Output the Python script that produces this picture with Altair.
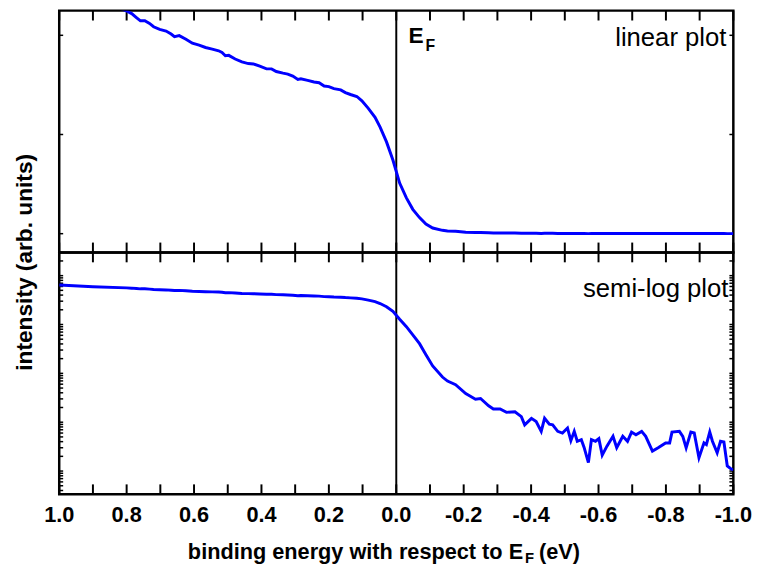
import altair as alt
import pandas as pd

# ---- data (binding energy in eV, intensity in counts) ----
energy = [1.000, 0.900, 0.800, 0.785, 0.771, 0.759, 0.746, 0.732, 0.720, 0.702,
          0.683, 0.668, 0.658, 0.644, 0.624, 0.605, 0.585, 0.566, 0.546, 0.527,
          0.517, 0.507, 0.497, 0.478, 0.458, 0.439, 0.424, 0.405, 0.385, 0.370,
          0.356, 0.336, 0.322, 0.307, 0.292, 0.283, 0.263, 0.244, 0.229, 0.214,
          0.200, 0.185, 0.165, 0.151, 0.136, 0.117, 0.102, 0.083, 0.063, 0.048,
          0.029, 0.010, -0.010, -0.030, -0.049, -0.069, -0.088, -0.108, -0.137, -0.152,
          -0.176, -0.206, -0.235, -0.250, -0.274, -0.288, -0.308, -0.327, -0.352, -0.371,
          -0.381, -0.401, -0.415, -0.430, -0.440, -0.454, -0.464, -0.479, -0.493, -0.508,
          -0.518, -0.528, -0.537, -0.549, -0.557, -0.570, -0.579, -0.591, -0.601, -0.611,
          -0.625, -0.643, -0.654, -0.672, -0.686, -0.698, -0.711, -0.728, -0.740, -0.760,
          -0.777, -0.799, -0.811, -0.818, -0.840, -0.850, -0.860, -0.874, -0.884, -0.898,
          -0.913, -0.920, -0.930, -0.938, -0.952, -0.962, -0.972, -0.982, -0.994, -1.000]
intensity = [6430, 5950, 5614, 5547, 5448, 5365, 5365, 5299, 5216, 5149,
             5108, 5033, 4967, 4992, 4901, 4801, 4751, 4693, 4652, 4610,
             4569, 4486, 4494, 4403, 4328, 4287, 4279, 4221, 4154, 4154,
             4088, 4047, 4022, 3972, 3889, 3906, 3864, 3823, 3806, 3723,
             3707, 3657, 3624, 3557, 3508, 3458, 3350, 3159, 2935, 2687,
             2313, 1857, 1276, 903, 614, 405, 241, 142, 84, 69.5,
             58.6, 38.5, 29.6, 30.6, 21.7, 18.6, 18.6, 15.9, 16.4, 13.0,
             8.8, 12.0, 10.3, 6.5, 12.0, 9.1, 8.8, 6.5, 6.0, 7.6,
             4.19, 6.5, 4.07, 4.39, 3.08, 1.49, 4.39, 4.07, 4.60, 2.12,
             3.23, 5.14, 2.99, 5.14, 4.07, 6.28, 5.54, 6.49, 5.14, 2.56,
             2.99, 3.77, 3.77, 6.28, 6.49, 5.14, 2.99, 6.28, 6.0, 1.87,
             3.77, 3.48, 6.28, 4.07, 2.37, 4.07, 3.94, 1.27, 1.09, 1.07]

x_tick_values = [1.0, 0.9, 0.8, 0.7, 0.6, 0.5, 0.4, 0.3, 0.2, 0.1, 0.0,
                 -0.1, -0.2, -0.3, -0.4, -0.5, -0.6, -0.7, -0.8, -0.9, -1.0]
x_label_values = [1.0, 0.8, 0.6, 0.4, 0.2, 0.0, -0.2, -0.4, -0.6, -0.8, -1.0]
x_tick_labels = ["1.0", "0.8", "0.6", "0.4", "0.2", "0.0", "-0.2", "-0.4", "-0.6", "-0.8", "-1.0"]
lin_tick_values = [0, 2500, 5000]
log_decades = [-1, 0, 1, 2, 3, 4]
log_mults = [1, 2, 3, 4, 5, 6, 7, 8, 9]
fermi_level = [0.0]

LIN_DOMAIN = [-473, 5622]
LOG_DOMAIN = [0.335, 29850]

W, H = 683, 245
BLUE = "#0000FF"
FONT = "Liberation Sans"
TICK = 10
YTICK = 4

df = pd.DataFrame({"E": energy, "I": intensity})
xt = pd.DataFrame({"v": x_tick_values})
xl = pd.DataFrame({"v": x_label_values, "lab": x_tick_labels})
lt = pd.DataFrame({"v": lin_tick_values})
log_ticks = [m * 10.0 ** d for d in log_decades for m in log_mults
             if LOG_DOMAIN[0] <= m * 10.0 ** d <= LOG_DOMAIN[1]]
gt = pd.DataFrame({"v": log_ticks})
ef = pd.DataFrame({"E": fermi_level})

xs = alt.Scale(domain=[-1.0, 1.0], reverse=True, nice=False, zero=False)
lin_s = alt.Scale(domain=LIN_DOMAIN, nice=False, zero=False)
log_s = alt.Scale(type="log", domain=LOG_DOMAIN, nice=False)


def one(text):
    return pd.DataFrame({"t": [text]})


def frame_ticks(yscale, ytick_df):
    X = alt.X("v:Q", scale=xs, axis=None)
    top = alt.Chart(xt).mark_rule(color="black", strokeWidth=2).encode(
        x=X, y=alt.value(0), y2=alt.value(TICK))
    bot = alt.Chart(xt).mark_rule(color="black", strokeWidth=2).encode(
        x=X, y=alt.value(H), y2=alt.value(H - TICK))
    Y = alt.Y("v:Q", scale=yscale, axis=None)
    left = alt.Chart(ytick_df).mark_rule(color="black", strokeWidth=1.5).encode(
        y=Y, x=alt.value(0), x2=alt.value(YTICK))
    right = alt.Chart(ytick_df).mark_rule(color="black", strokeWidth=1.5).encode(
        y=Y, x=alt.value(W), x2=alt.value(W - YTICK))
    return [top, bot, left, right]


def panel_line(yscale):
    return alt.Chart(df).mark_line(color=BLUE, strokeWidth=3, clip=True).encode(
        x=alt.X("E:Q", scale=xs, axis=None),
        y=alt.Y("I:Q", scale=yscale, axis=None),
        order=alt.Order("E:Q", sort="descending"))


def ef_rule():
    return alt.Chart(ef).mark_rule(color="black", strokeWidth=2).encode(
        x=alt.X("E:Q", scale=xs, axis=None))


# ---- top panel (linear) ----
e_text = alt.Chart(one("E")).mark_text(
    font=FONT, fontSize=23, fontWeight="bold", align="left", baseline="alphabetic",
    color="black").encode(text="t:N", x=alt.value(354), y=alt.value(33))
f_text = alt.Chart(one("F")).mark_text(
    font=FONT, fontSize=16, fontWeight="bold", align="left", baseline="alphabetic",
    color="black").encode(text="t:N", x=alt.value(371), y=alt.value(41))
lin_label = alt.Chart(one("linear plot")).mark_text(
    font=FONT, fontSize=26, align="right", baseline="alphabetic",
    color="black").encode(text="t:N", x=alt.value(676), y=alt.value(36))

top = alt.layer(
    ef_rule(), *frame_ticks(lin_s, lt), panel_line(lin_s), e_text, f_text, lin_label
).properties(width=W, height=H)

# ---- bottom panel (semi-log) ----
log_label = alt.Chart(one("semi-log plot")).mark_text(
    font=FONT, fontSize=26, align="right", baseline="alphabetic",
    color="black").encode(text="t:N", x=alt.value(678), y=alt.value(45))
tick_labels = alt.Chart(xl).mark_text(
    font=FONT, fontSize=22, fontWeight="bold", align="center", baseline="alphabetic",
    color="black").encode(x=alt.X("v:Q", scale=xs, axis=None), y=alt.value(H + 28),
                          text="lab:N")
xtitle1 = alt.Chart(one("binding energy with respect to E")).mark_text(
    font=FONT, fontSize=22, fontWeight="bold", align="right", baseline="alphabetic",
    color="black").encode(text="t:N", x=alt.value(470), y=alt.value(H + 66))
xtitle2 = alt.Chart(one("F")).mark_text(
    font=FONT, fontSize=15, fontWeight="bold", align="left", baseline="alphabetic",
    color="black").encode(text="t:N", x=alt.value(472), y=alt.value(H + 70))
xtitle3 = alt.Chart(one("(eV)")).mark_text(
    font=FONT, fontSize=22, fontWeight="bold", align="left", baseline="alphabetic",
    color="black").encode(text="t:N", x=alt.value(486), y=alt.value(H + 66))
ytitle = alt.Chart(one("intensity (arb. units)")).mark_text(
    font=FONT, fontSize=23, fontWeight="bold", align="center", baseline="alphabetic",
    angle=270, color="black").encode(text="t:N", x=alt.value(-28), y=alt.value(10))

bottom = alt.layer(
    ef_rule(), *frame_ticks(log_s, gt), panel_line(log_s), log_label,
    tick_labels, xtitle1, xtitle2, xtitle3, ytitle
).properties(width=W, height=H)

chart = alt.vconcat(top, bottom, spacing=0, bounds="flush").properties(
    padding={"left": 12, "top": 4, "right": 5, "bottom": 0},
    background="white",
).configure_view(stroke="black", strokeWidth=2.5)

chart.save("out.html", embed_options={"renderer": "svg", "actions": False})
